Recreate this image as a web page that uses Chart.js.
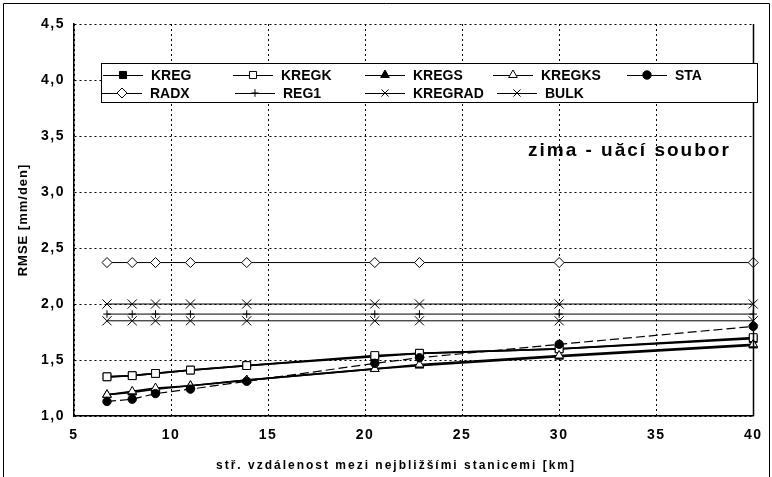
<!DOCTYPE html>
<html><head><meta charset="utf-8">
<script src="https://cdn.jsdelivr.net/npm/chart.js@4.4.1/dist/chart.umd.min.js"></script>
<style>html,body{margin:0;padding:0;background:#fff}canvas{display:block}</style>
</head><body>
<canvas id="c" width="772" height="477"></canvas>
<script>
// ---- data ----
const distances = [6.7, 8.0, 9.2, 11.0, 13.9, 20.5, 22.8, 30.0, 40.0];
const KREG    = [1.35, 1.36, 1.38, 1.41, 1.45, 1.53, 1.56, 1.60, 1.69];
const KREGK   = [1.35, 1.36, 1.38, 1.41, 1.45, 1.54, 1.56, 1.60, 1.70];
const KREGS   = [1.19, 1.21, 1.24, 1.27, 1.32, 1.42, 1.45, 1.53, 1.63];
const KREGKS  = [1.19, 1.22, 1.25, 1.27, 1.32, 1.42, 1.46, 1.54, 1.64];
const STA     = [1.13, 1.15, 1.20, 1.24, 1.31, 1.47, 1.52, 1.64, 1.80];
const RADX    = [2.37, 2.37, 2.37, 2.37, 2.37, 2.37, 2.37, 2.37, 2.37];
const REG1    = [1.91, 1.91, 1.91, 1.91, 1.91, 1.91, 1.91, 1.91, 1.91];
const KREGRAD = [1.85, 1.85, 1.85, 1.85, 1.85, 1.85, 1.85, 1.85, 1.85];
const BULK    = [2.00, 2.00, 2.00, 2.00, 2.00, 2.00, 2.00, 2.00, 2.00];
const seriesNames = ['KREG','KREGK','KREGS','KREGKS','STA','RADX','REG1','KREGRAD','BULK'];
const seriesValues = [KREG, KREGK, KREGS, KREGKS, STA, RADX, REG1, KREGRAD, BULK];
const xTickValues = [5, 10, 15, 20, 25, 30, 35, 40];
const yTickValues = [1.0, 1.5, 2.0, 2.5, 3.0, 3.5, 4.0, 4.5];
const xAxisTitle = 'stř. vzdálenost mezi nejbližšími stanicemi [km]';
const yAxisTitle = 'RMSE [mm/den]';
const noteText = 'zima - uăcí soubor';

// ---- styles ----
const FONT = "'Liberation Sans', Arial, sans-serif";
const styles = {
  KREG:    {pointStyle:'rect',     radius:5.5, fill:'#000', lw:1.7, dash:[]},
  KREGK:   {pointStyle:'rect',     radius:5.5, fill:'#fff', lw:1.7, dash:[]},
  KREGS:   {pointStyle:'triangle', radius:5,   fill:'#000', lw:1.7, dash:[]},
  KREGKS:  {pointStyle:'triangle', radius:5,   fill:'#fff', lw:1.7, dash:[]},
  STA:     {pointStyle:'circle',   radius:4.2, fill:'#000', lw:1.2, dash:[9,4]},
  RADX:    {pointStyle:'rectRot',  radius:5,   fill:'#fff', lw:1,   dash:[]},
  REG1:    {pointStyle:'cross',    radius:3.8, fill:'#fff', lw:1,   dash:[]},
  KREGRAD: {pointStyle:'crossRot', radius:6.5, fill:'#fff', lw:1,   dash:[]},
  BULK:    {pointStyle:'crossRot', radius:6.5, fill:'#fff', lw:1,   dash:[]}
};

const datasets = seriesNames.map((name, i) => {
  const s = styles[name];
  return {
    label: name,
    data: distances.map((x, j) => ({x: x, y: seriesValues[i][j]})),
    borderColor: '#000',
    borderWidth: s.lw,
    borderDash: s.dash,
    backgroundColor: s.fill,
    pointStyle: s.pointStyle,
    pointRadius: s.radius,
    pointBorderColor: '#000',
    pointBackgroundColor: s.fill,
    pointBorderWidth: 1,
    tension: 0,
    fill: false,
    clip: false,
    order: seriesNames.length - i
  };
});

const legendSlots = [
  {name:'KREG', x:123, row:0}, {name:'KREGK', x:253, row:0}, {name:'KREGS', x:385, row:0},
  {name:'KREGKS', x:513, row:0}, {name:'STA', x:647, row:0},
  {name:'RADX', x:122, row:1}, {name:'REG1', x:255, row:1}, {name:'KREGRAD', x:385, row:1},
  {name:'BULK', x:517, row:1}
];

function marker(ctx, style, radius, x, y, fill) {
  ctx.save();
  ctx.fillStyle = fill; ctx.strokeStyle = '#000'; ctx.lineWidth = 1; ctx.setLineDash([]);
  if (Chart.helpers && Chart.helpers.drawPoint) {
    Chart.helpers.drawPoint(ctx, {pointStyle: style, radius: radius, rotation: 0, borderWidth: 1}, x, y);
  }
  ctx.restore();
}

const decorPlugin = {
  id: 'decor',
  beforeDraw(chart) {
    const ctx = chart.ctx;
    ctx.save();
    ctx.fillStyle = '#fff';
    ctx.fillRect(0, 0, chart.width, chart.height);
    ctx.restore();
    ctx.letterSpacing = '1.5px';
  },
  afterDraw(chart) {
    const ctx = chart.ctx;
    const a = chart.chartArea;
    ctx.save();
    ctx.letterSpacing = '0px';
    // right border of the plot
    ctx.strokeStyle = '#000'; ctx.lineWidth = 1.5; ctx.setLineDash([]);
    ctx.beginPath(); ctx.moveTo(Math.round(a.right) + 0.5, a.top); ctx.lineTo(Math.round(a.right) + 0.5, a.bottom); ctx.stroke();
    // outer frame
    ctx.lineWidth = 1;
    ctx.beginPath();
    ctx.moveTo(3.5, 480); ctx.lineTo(3.5, 3.5); ctx.lineTo(769.5, 3.5); ctx.lineTo(769.5, 480);
    ctx.stroke();

    // legend box
    const bx = 101.5, by = 63.5, bw = 656, bh = 39;
    ctx.fillStyle = '#fff';
    ctx.fillRect(bx, by, bw, bh);
    ctx.strokeStyle = '#000'; ctx.lineWidth = 1;
    ctx.strokeRect(bx, by, bw, bh);
    const rowY = [75, 93];
    ctx.font = 'bold 14px ' + FONT;
    ctx.textBaseline = 'middle'; ctx.textAlign = 'left';
    legendSlots.forEach(slot => {
      const s = styles[slot.name];
      const y = rowY[slot.row];
      ctx.save();
      ctx.strokeStyle = '#000'; ctx.lineWidth = 1.2; ctx.setLineDash([]);
      ctx.beginPath(); ctx.moveTo(slot.x - 20, y + 0.5); ctx.lineTo(slot.x + 20, y + 0.5); ctx.stroke();
      ctx.restore();
      marker(ctx, s.pointStyle, Math.min(s.radius, 5), slot.x, y, s.fill);
      ctx.fillStyle = '#000';
      ctx.fillText(slot.name, slot.x + 28, y + 1);
    });

    // note text
    ctx.font = 'bold 19px ' + FONT;
    ctx.letterSpacing = '2px';
    ctx.fillStyle = '#000';
    ctx.textAlign = 'left'; ctx.textBaseline = 'middle';
    ctx.fillText(noteText, 528, 151);

    // axis titles
    ctx.font = 'bold 12px ' + FONT;
    ctx.letterSpacing = '2px';
    ctx.textAlign = 'center'; ctx.textBaseline = 'middle';
    ctx.fillText(xAxisTitle, 396, 466);
    ctx.font = 'bold 13px ' + FONT;
    ctx.letterSpacing = '1px';
    ctx.translate(23, (a.top + a.bottom) / 2);
    ctx.rotate(-Math.PI / 2);
    ctx.fillText(yAxisTitle, 0, 0);
    ctx.restore();
    ctx.letterSpacing = '0px';
  }
};

const fmt = v => v.toFixed(1).replace('.', ',');

new Chart(document.getElementById('c'), {
  type: 'line',
  data: {datasets: datasets},
  plugins: [decorPlugin],
  options: {
    responsive: false,
    animation: false,
    devicePixelRatio: 1,
    layout: {padding: {top: 24, right: 13, bottom: 0, left: 0}},
    plugins: {legend: {display: false}, tooltip: {enabled: false}, title: {display: false}},
    scales: {
      x: {
        type: 'linear', min: 5, max: 40,
        afterFit: s => { s.height = 61; },
        afterBuildTicks: s => { s.ticks = xTickValues.map(v => ({value: v})); },
        ticks: {color: '#000', font: {family: FONT, size: 14, weight: 'bold'}, padding: 11,
                maxRotation: 0, callback: v => String(v)},
        grid: {color: '#000', lineWidth: 1, drawTicks: false},
        border: {display: true, color: '#000', width: 1.5, dash: [2, 3]}
      },
      y: {
        type: 'linear', min: 1, max: 4.5,
        afterFit: s => { s.width = 74; },
        afterBuildTicks: s => { s.ticks = yTickValues.map(v => ({value: v})); },
        ticks: {color: '#000', font: {family: FONT, size: 14, weight: 'bold'}, padding: 9,
                callback: v => fmt(v)},
        grid: {color: '#000', lineWidth: 1, drawTicks: false},
        border: {display: true, color: '#000', width: 1.5, dash: [2, 3]}
      }
    }
  }
});
</script>
</body></html>
